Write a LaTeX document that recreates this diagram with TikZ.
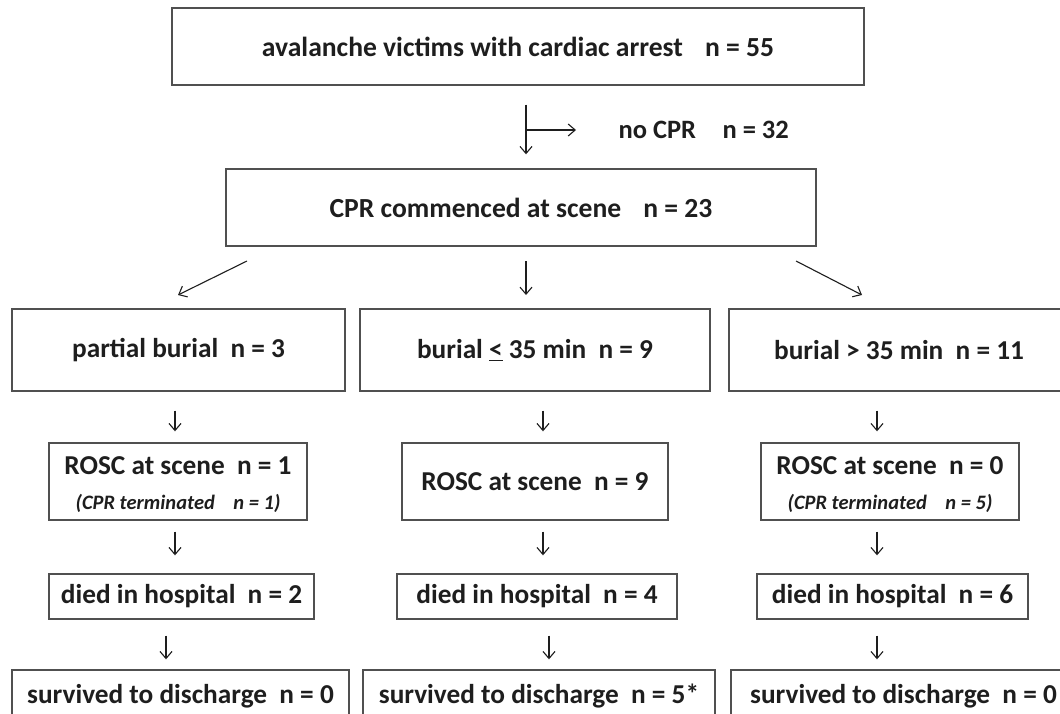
\documentclass[tikz,border=0pt]{standalone}
\usepackage{fontspec}
\setmainfont{Carlito}
\usetikzlibrary{arrows.meta}
\definecolor{boxline}{HTML}{505050}
\definecolor{ink}{HTML}{1E1E1E}
\tikzset{
  big/.style={font=\bfseries\fontsize{27.3}{32}\selectfont},
  box/.style={draw=boxline, line width=1.4pt, fill=white, text=ink, inner sep=0pt, big, align=center},
  topbox/.style={box, font=\bfseries\fontsize{27.6}{32}\selectfont},
  link/.style={draw=ink, line width=1.1pt},
  arr/.style={link, -{Straight Barb[length=7pt,width=12pt,line width=1.1pt]}},
  note/.style={text=ink, font=\bfseries\itshape\fontsize{20.5}{24}\selectfont},
  % vertical arrows between two stacked boxes
  down/.style 2 args={arr, shorten <=#1, shorten >=#2},
}
\begin{document}
\begin{tikzpicture}[x=1pt,y=-1pt]
\useasboundingbox (0,0) rectangle (1060,714);
\clip (0,0) rectangle (1060,714);
\fill[white] (0,0) rectangle (1060,714);

% first two levels
\node[topbox, minimum width=692pt, minimum height=77pt] (top) at (518,46.5)
  {avalanche victims with cardiac arrest\hspace{0.8em}n = 55};
\node[topbox, minimum width=590pt, minimum height=77pt] (cpr) at (521,207.5)
  {CPR commenced at scene\hspace{0.8em}n = 23};
\node[font=\bfseries\fontsize{26.5}{31}\selectfont, text=ink, anchor=west] (nocpr) at (615,130)
  {no CPR\hspace{1em}n = 32};

% burial groups
\node[box, minimum width=333pt, minimum height=82pt] (b1) at (178.5,350) {partial burial\hspace{0.45em}n = 3};
\node[box, minimum width=350pt, minimum height=82pt] (b2) at (535,350) {burial \underline{<} 35 min\hspace{0.45em}n = 9};
\node[box, minimum width=340pt, minimum height=82pt] (b3) at (899,350) {burial > 35 min\hspace{0.45em}n = 11};

% ROSC at scene
\node[box, minimum width=258pt, minimum height=77pt] (r1) at (178,481.5) {};
\node[text=ink, big] (r1a) at (178,466) {ROSC at scene\hspace{0.45em}n = 1};
\node[note] (r1b) at (178,503) {(CPR terminated\hspace{0.9em}n = 1)};
\node[box, minimum width=266pt, minimum height=77pt] (r2) at (535,481.5) {ROSC at scene\hspace{0.45em}n = 9};
\node[box, minimum width=258pt, minimum height=77pt] (r3) at (890,481.5) {};
\node[text=ink, big] (r3a) at (890,466) {ROSC at scene\hspace{0.45em}n = 0};
\node[note] (r3b) at (890,503) {(CPR terminated\hspace{0.9em}n = 5)};

% died in hospital
\node[box, minimum width=265pt, minimum height=45pt] (d1) at (181.5,596.5) {died in hospital\hspace{0.45em}n = 2};
\node[box, minimum width=280pt, minimum height=45pt] (d2) at (537,596.5) {died in hospital\hspace{0.45em}n = 4};
\node[box, minimum width=271pt, minimum height=45pt] (d3) at (892.5,596.5) {died in hospital\hspace{0.45em}n = 6};

% survived to discharge
\node[box, minimum width=337pt, minimum height=52pt] (s1) at (180.5,696) {survived to discharge\hspace{0.45em}n = 0};
\node[box, minimum width=352pt, minimum height=52pt] (s2) at (539,696) {survived to discharge\hspace{0.45em}n = 5*};
\node[box, minimum width=345pt, minimum height=52pt] (s3) at (903.5,696) {survived to discharge\hspace{0.45em}n = 0};

% split below the first box
\coordinate (split) at (526,130);
\draw[link, shorten <=19pt] (top.south -| split) -- (split);
\draw[arr, shorten >=39pt] (split) -- (nocpr.west);
\draw[arr, shorten >=14pt] (split) -- (split |- cpr.north);

% fan-out to the three burial groups
\coordinate (fl0) at (247,261);  \coordinate (fl1) at (178,295);
\coordinate (fm0) at (526,261);  \coordinate (fm1) at (526,295);
\coordinate (fr0) at (796,261);  \coordinate (fr1) at (862,295);
\draw[arr] (fl0) -- (fl1);
\draw[arr] (fm0) -- (fm1);
\draw[arr] (fr0) -- (fr1);

% column 1
\draw[down={19pt}{11pt}] ([xshift=-3.5pt]b1.south) -- ([xshift=-3.5pt]b1.south |- r1.north);
\draw[down={11pt}{18pt}] ([xshift=-3pt]r1.south) -- ([xshift=-3pt]r1.south |- d1.north);
\draw[down={16pt}{10pt}] ([xshift=-15.5pt]d1.south) -- ([xshift=-15.5pt]d1.south |- s1.north);
% column 2
\draw[down={19pt}{11pt}] ([xshift=8pt]b2.south) -- ([xshift=8pt]b2.south |- r2.north);
\draw[down={11pt}{18pt}] ([xshift=8pt]r2.south) -- ([xshift=8pt]r2.south |- d2.north);
\draw[down={16pt}{10pt}] ([xshift=12pt]d2.south) -- ([xshift=12pt]d2.south |- s2.north);
% column 3
\draw[down={19pt}{11pt}] ([xshift=-22pt]b3.south) -- ([xshift=-22pt]b3.south |- r3.north);
\draw[down={11pt}{18pt}] ([xshift=-13pt]r3.south) -- ([xshift=-13pt]r3.south |- d3.north);
\draw[down={16pt}{10pt}] ([xshift=-15.5pt]d3.south) -- ([xshift=-15.5pt]d3.south |- s3.north);
\end{tikzpicture}
\end{document}
